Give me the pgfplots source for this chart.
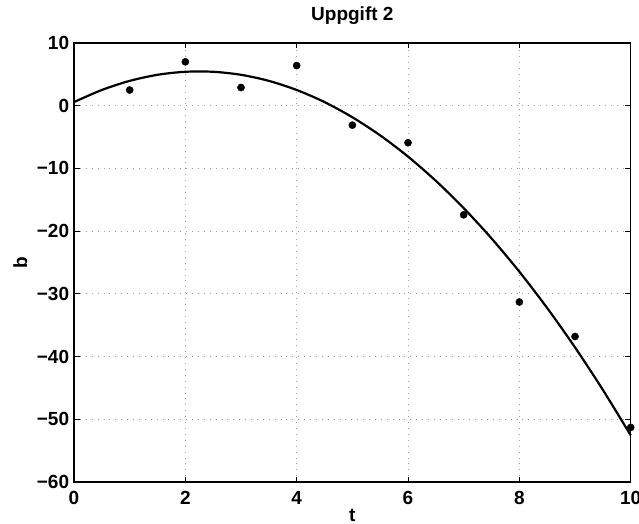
\documentclass[border=0pt]{standalone}
\usepackage{pgfplots}
\pgfplotsset{compat=1.18}
\usepackage{fontspec}
\setmainfont{Liberation Sans}

\newcommand{\lbl}{\fontsize{19}{22}\selectfont\bfseries}

\begin{document}
\begin{tikzpicture}
  \begin{axis}[name=ax,
      scale only axis,
      width=556.7pt, height=439pt,
      xmin=0, xmax=10, ymin=-60, ymax=10,
      xtick={0,2,4,6,8,10},
      ytick={-60,-50,-40,-30,-20,-10,0,10},
      yticklabels={−60,−50,−40,−30,−20,−10,0,10},
      /pgf/number format/assume math mode=true,
      tick label style={font=\lbl},
      xticklabel style={anchor=base, yshift=-22.5pt},
      yticklabel style={anchor=east, inner sep=0pt, xshift=-4.7pt},
      tick align=inside,
      major tick length=5.5pt,
      tick style={black, line width=0.8pt},
      axis line style={black, line width=1.2pt},
      grid=major,
      grid style={gray!75, line width=0.8pt, dash pattern=on 0.9pt off 5pt},
      title={Uppgift 2},
      title style={font=\lbl, at={(axis description cs:0.5,1.0371)}, anchor=base},
      xlabel={t},
      xlabel style={font=\lbl, at={(axis description cs:0.5,-0.0895)}, anchor=base},
      ylabel={b},
      ylabel style={font=\lbl, at={(axis description cs:-0.0844,0.5)}, anchor=base},
      clip=false
    ]
    % fitted curve
    \addplot[black, line width=2.2pt, no marks, smooth] coordinates {
      (0,0.58) (0.5,2.51) (1,3.96) (1.5,4.93) (2,5.41) (2.5,5.41)
      (3,4.93) (3.5,3.96) (4,2.51) (4.5,0.58) (5,-1.84) (5.5,-4.73)
      (6,-8.11) (6.5,-11.98) (7,-16.33) (7.5,-21.16) (8,-26.47)
      (8.5,-32.26) (9,-38.54) (9.5,-45.31) (10,-52.55)
    };
    % measured points
    \addplot[only marks, mark=*, mark size=3.6pt, black] coordinates {
      (1,2.5) (2,7.0) (3,2.9) (4,6.4) (5,-3.1)
      (6,-5.9) (7,-17.4) (8,-31.3) (9,-36.8) (10,-51.3)
    };
  \end{axis}
  \pgfresetboundingbox
  \path[use as bounding box] ([xshift=-74pt,yshift=-42pt]ax.south west)
    rectangle ([xshift=8.3pt,yshift=43pt]ax.north east);
\end{tikzpicture}
\end{document}
